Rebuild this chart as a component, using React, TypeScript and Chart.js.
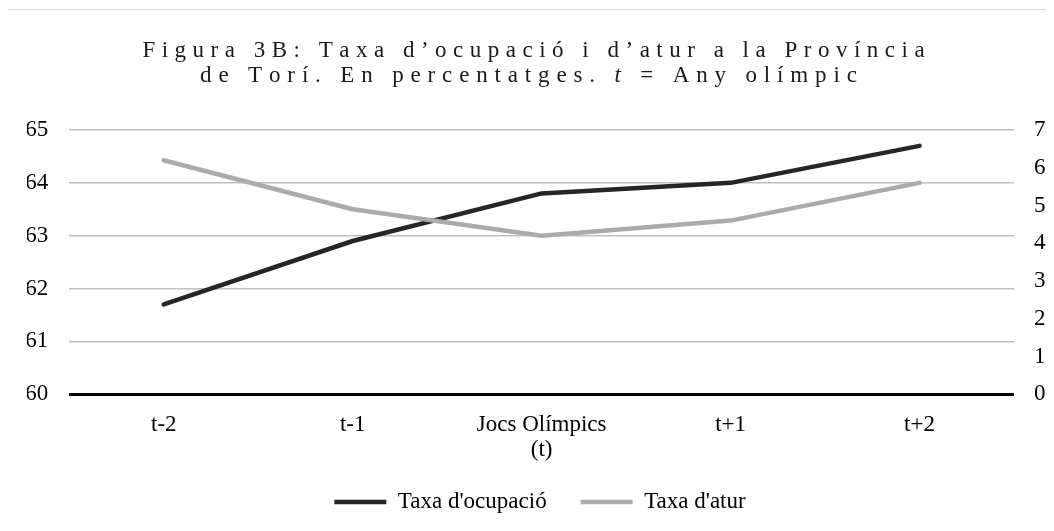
import React, { useEffect, useRef } from "react";
import { Chart, registerables } from "chart.js";

Chart.register(...registerables);

if (typeof document !== "undefined") {
  document.documentElement.style.overflow = "hidden";
}

// ---- data ----
const categories: (string | string[])[] = ["t-2", "t-1", ["Jocs Olímpics", "(t)"], "t+1", "t+2"];
const ocupacio = [61.7, 62.9, 63.8, 64.0, 64.7];
const atur = [6.2, 4.9, 4.2, 4.6, 5.6];
const seriesNames = ["Taxa d'ocupació", "Taxa d'atur"];
const leftAxis = { min: 60, max: 65, step: 1 };
const rightAxis = { min: 0, max: 7, step: 1 };
const titleLine1 = [{ text: "Figura 3B: Taxa d’ocupació i d’atur a la Província", italic: false }];
const titleLine2 = [
  { text: "de Torí. En percentatges. ", italic: false },
  { text: "t", italic: true },
  { text: " = Any olímpic", italic: false },
];

const FONT = "'Liberation Serif', 'Times New Roman', serif";

const titlePlugin = {
  id: "spacedTitle",
  afterDraw(chart: any) {
    const ctx = chart.ctx as CanvasRenderingContext2D;
    const spacings = [6.5, 6.85];
    const offsets = [6.5, 1.5];
    const size = 23;
    const baselines = [46.7, 71.7];
    ctx.save();
    ctx.fillStyle = "#1a1a1a";
    ctx.textBaseline = "alphabetic";
    ctx.textAlign = "left";
    [titleLine1, titleLine2].forEach((segs, li) => {
      const spacing = spacings[li];
      const chars: { ch: string; font: string; w: number }[] = [];
      segs.forEach((seg) => {
        const font = `${seg.italic ? "italic " : ""}${size}px ${FONT}`;
        ctx.font = font;
        for (const ch of seg.text) {
          chars.push({ ch, font, w: ctx.measureText(ch).width });
        }
      });
      const total = chars.reduce((s, c) => s + c.w, 0) + spacing * (chars.length - 1);
      let x = chart.width / 2 - total / 2 + offsets[li];
      chars.forEach((c) => {
        ctx.font = c.font;
        ctx.fillText(c.ch, x, baselines[li]);
        x += c.w + spacing;
      });
    });
    ctx.restore();
  },
};

// nudge the legend row so it sits just under the two-line category label
const legendNudgePlugin = {
  id: "legendNudge",
  afterLayout(chart: any) {
    const lg = chart.legend;
    if (lg) {
      lg.top -= 5.8;
      lg.bottom -= 5.8;
      lg.left += 3.5;
      lg.right += 3.5;
    }
  },
};

export default function App() {
  const ref = useRef<HTMLCanvasElement | null>(null);

  useEffect(() => {
    if (!ref.current) return;
    const tickFont = { family: FONT, size: 23, lineHeight: 1.1 };
    const chart = new Chart(ref.current, {
      type: "line",
      data: {
        labels: categories,
        datasets: [
          {
            label: seriesNames[0],
            data: ocupacio,
            yAxisID: "y",
            borderColor: "#262626",
            backgroundColor: "#262626",
            borderWidth: 4.5,
            pointRadius: 0,
            borderCapStyle: "round",
            borderJoinStyle: "round",
            tension: 0,
            order: 1,
          },
          {
            label: seriesNames[1],
            data: atur,
            yAxisID: "y1",
            borderColor: "#aeaaaa",
            backgroundColor: "#aeaaaa",
            borderWidth: 4.5,
            pointRadius: 0,
            borderCapStyle: "round",
            borderJoinStyle: "round",
            tension: 0,
            order: 0,
          },
        ],
      },
      options: {
        responsive: false,
        animation: false,
        layout: { padding: { top: 120, left: 19, right: 0, bottom: 1.7 } },
        plugins: {
          title: { display: false },
          tooltip: { enabled: false },
          legend: {
            position: "bottom",
            labels: {
              usePointStyle: true,
              pointStyle: "line",
              pointStyleWidth: 52,
              padding: 34,
              color: "#000",
              font: { family: FONT, size: 23 },
              sort: (a: any, b: any) => a.datasetIndex - b.datasetIndex,
            },
          },
        },
        scales: {
          x: {
            offset: true,
            grid: { display: false, drawTicks: false },
            border: { display: false },
            ticks: {
              padding: 18,
              color: "#000",
              font: tickFont,
              maxRotation: 0,
              autoSkip: false,
            },
            afterFit: (s: any) => {
              s.height = 68;
            },
          },
          y: {
            position: "left",
            min: leftAxis.min,
            max: leftAxis.max,
            ticks: { stepSize: leftAxis.step, padding: 21, color: "#000", font: tickFont },
            grid: {
              drawTicks: false,
              color: (c: any) => (c.tick && c.tick.value === leftAxis.min ? "#000" : "#bfbfbf"),
              lineWidth: (c: any) => (c.tick && c.tick.value === leftAxis.min ? 3 : 1.5),
            },
            border: { display: false },
            afterFit: (s: any) => {
              s.width = 42.3;
            },
          },
          y1: {
            position: "right",
            min: rightAxis.min,
            max: rightAxis.max,
            ticks: { stepSize: rightAxis.step, padding: 20, color: "#000", font: tickFont },
            grid: { display: false, drawTicks: false },
            border: { display: false },
            afterFit: (s: any) => {
              s.width = 32;
            },
          },
        },
      },
      plugins: [titlePlugin, legendNudgePlugin],
    } as any);
    return () => chart.destroy();
  }, []);

  return (
    <div
      style={{
        position: "relative",
        left: -1,
        top: 1,
        width: 1039,
        height: 522,
        borderTop: "1px solid #d9d9d9",
        borderLeft: "1px solid #d9d9d9",
        boxSizing: "border-box",
        background: "#fff",
      }}
    >
      <canvas ref={ref} width={1038} height={521} style={{ display: "block" }} />
    </div>
  );
}
